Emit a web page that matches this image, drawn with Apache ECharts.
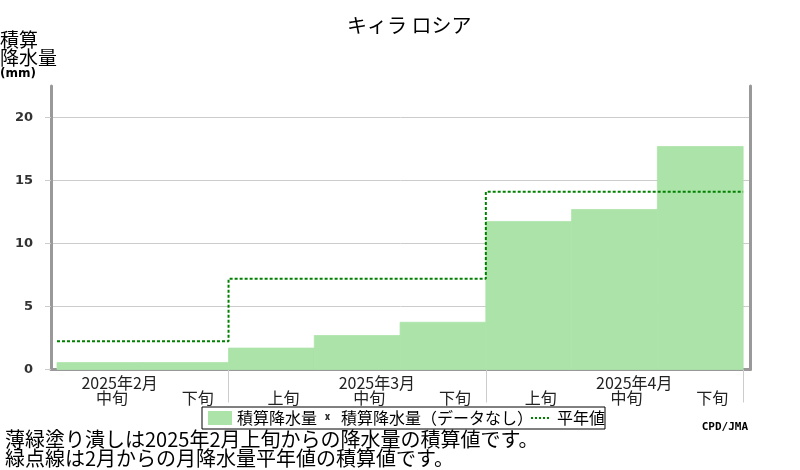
<!DOCTYPE html>
<html>
<head>
<meta charset="UTF-8">
<title>キィラ ロシア</title>
<script src="https://cdn.jsdelivr.net/npm/echarts@6/dist/echarts.min.js"></script>
<style>
  html, body { margin: 0; padding: 0; background: #fff; }
  #chart { width: 800px; height: 470px; }
</style>
</head>
<body>
<div id="chart"></div>
<script>
// 旬ごとのラベル（2025年2月中旬～4月下旬）
var dekadLabels = ['中旬', '下旬', '上旬', '中旬', '下旬', '上旬', '中旬', '下旬'];
var monthLabels = ['2025年2月', '2025年3月', '2025年4月'];
// 月の開始・終了位置（旬の番号）
var monthStart = [0, 2, 5];
var monthEnd = [2, 5, 8];
// 積算降水量 (mm)
var accumPrecip = [0.55, 0.55, 1.7, 2.7, 3.75, 11.75, 12.7, 17.7];
// 月降水量平年値の積算値 (mm)
var normalAccum = [2.25, 7.2, 14.1];
var yTicks = [0, 5, 10, 15, 20];

var jpFont = '"Noto Sans CJK JP", sans-serif';
var gray = '#999';
var fillGreen = '#ace3a9';

var barData = accumPrecip.map(function (v, i) { return [i, v]; });

var normalData = [];
for (var m = 0; m < normalAccum.length; m++) {
    normalData.push([monthStart[m], normalAccum[m]]);
}
normalData.push([monthEnd[monthEnd.length - 1], normalAccum[normalAccum.length - 1]]);

var dekadPos = dekadLabels.map(function (l, i) { return i + 0.64; });
var monthPos = monthStart.map(function (s, i) {
    // 中旬の位置に合わせる
    return (i === 0 ? s : s + 1) + 0.73;
});

// 凡例アイコン（24x14の枠、角に極小の点を置いて大きさを固定）
var corners = 'M0,0h0.05v0.05h-0.05zM23.95,13.95h0.05v0.05h-0.05z';
var iconX = 'path://' + corners + 'M13,3L14.8,3L15.5,4.6L16.2,3L18,3L16.5,6L18,9L16.2,9L15.5,7.4L14.8,9L13,9L14.5,6Z';
var iconDot = 'path://' + corners + 'M3,6h2v2h-2zM7,6h2v2h-2zM11,6h2v2h-2zM15,6h2v2h-2zM19,6h2v2h-2z';

var chart = echarts.init(document.getElementById('chart'));

var option = {
    animation: false,
    backgroundColor: '#fff',
    title: {
        text: 'キィラ ロシア',
        left: 342,
        top: 10,
        textStyle: { fontFamily: jpFont, fontSize: 20, fontWeight: 'normal', color: '#000' }
    },
    grid: { left: 51, right: 50, top: 86, bottom: 100.5 },
    legend: {
        left: 202,
        top: 407,
        padding: [3, 0, 3, 6],
        itemGap: -5,
        itemWidth: 24,
        itemHeight: 14,
        borderColor: '#000',
        borderWidth: 1,
        backgroundColor: '#fff',
        textStyle: { fontFamily: jpFont, fontSize: 16, color: '#000' },
        data: [
            { name: '積算降水量', icon: 'rect' },
            { name: '積算降水量（データなし）', icon: iconX },
            { name: '平年値', icon: iconDot }
        ]
    },
    xAxis: [
        {
            type: 'value',
            min: -0.07,
            max: 8.08,
            axisLine: { show: true, onZero: false, lineStyle: { color: gray, width: 3 } },
            axisTick: {
                show: true,
                customValues: monthEnd,
                length: 33,
                lineStyle: { color: '#ccc', width: 1 }
            },
            axisLabel: {
                customValues: dekadPos,
                margin: 20,
                fontFamily: jpFont,
                fontSize: 16,
                color: '#222',
                formatter: function (v) {
                    return dekadLabels[Math.round(v - 0.64)];
                }
            },
            splitLine: { show: false }
        },
        {
            type: 'value',
            min: -0.07,
            max: 8.08,
            position: 'bottom',
            offset: 0,
            axisLine: { show: false },
            axisTick: { show: false },
            axisLabel: {
                customValues: monthPos,
                margin: 5,
                fontFamily: jpFont,
                fontSize: 16,
                color: '#222',
                formatter: function (v) {
                    var idx = monthPos.findIndex(function (p) { return Math.abs(p - v) < 0.01; });
                    return monthLabels[idx];
                }
            },
            splitLine: { show: false }
        }
    ],
    yAxis: [
        {
            type: 'value',
            min: 0,
            max: 22.5,
            axisLine: { show: true, onZero: false, lineStyle: { color: gray, width: 3 } },
            axisTick: { show: true, customValues: yTicks, length: 6, lineStyle: { color: '#ccc' } },
            axisLabel: {
                customValues: yTicks,
                margin: 18,
                fontFamily: 'DejaVu Sans',
                fontWeight: 'bold',
                fontSize: 13,
                color: '#333'
            },
            splitLine: { show: true, lineStyle: { color: '#ccc', width: 1 } }
        },
        {
            type: 'value',
            min: 0,
            max: 22.5,
            position: 'right',
            axisLine: { show: true, onZero: false, lineStyle: { color: gray, width: 3 } },
            axisTick: { show: false },
            axisLabel: { show: false },
            splitLine: { show: false }
        }
    ],
    series: [
        {
            name: '積算降水量',
            type: 'custom',
            itemStyle: { color: fillGreen },
            renderItem: function (params, api) {
                var i = api.value(0);
                var p0 = api.coord([i, api.value(1)]);
                var p1 = api.coord([i + 1, 0]);
                return {
                    type: 'rect',
                    shape: { x: p0[0], y: p0[1], width: p1[0] - p0[0], height: p1[1] - p0[1] },
                    style: { fill: fillGreen, stroke: fillGreen, lineWidth: 0.8 }
                };
            },
            encode: { x: 0, y: 1 },
            data: barData,
            z: 2
        },
        {
            name: '積算降水量（データなし）',
            type: 'scatter',
            itemStyle: { color: '#000' },
            data: []
        },
        {
            name: '平年値',
            type: 'line',
            step: 'end',
            symbol: 'none',
            lineStyle: { color: '#008000', width: 2, type: [3, 2] },
            itemStyle: { color: '#008000' },
            data: normalData,
            z: 3
        }
    ],
    graphic: [
        {
            type: 'text',
            left: 0,
            top: 30,
            style: {
                text: '積算\n降水量\n{s|(mm)}',
                fontFamily: jpFont,
                fontSize: 19,
                lineHeight: 18,
                fill: '#000',
                rich: {
                    s: { fontFamily: 'DejaVu Sans', fontWeight: 'bold', fontSize: 12, lineHeight: 14, fill: '#000' }
                }
            }
        },
        {
            type: 'text',
            right: 52,
            top: 422,
            style: {
                text: 'CPD/JMA',
                fontFamily: 'DejaVu Sans Mono',
                fontWeight: 'bold',
                fontSize: 11,
                fill: '#000'
            }
        },
        {
            type: 'text',
            left: 5,
            top: 429,
            style: {
                text: '薄緑塗り潰しは2025年2月上旬からの降水量の積算値です。\n緑点線は2月からの月降水量平年値の積算値です。',
                fontFamily: jpFont,
                fontSize: 20,
                lineHeight: 19,
                fill: '#000'
            }
        }
    ]
};

chart.setOption(option);
</script>
</body>
</html>
